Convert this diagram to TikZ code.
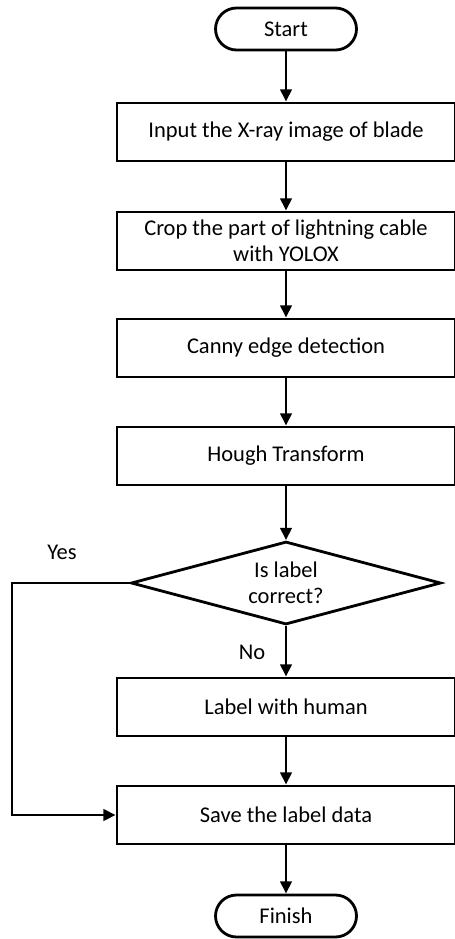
\documentclass[tikz,border=0pt]{standalone}
\usepackage{fontspec}
\setmainfont{Carlito}
\usetikzlibrary{arrows.meta,shapes.geometric}

\tikzset{
  flow/.style={line width=1.6pt,-{Triangle[length=7pt,width=6.5pt]}},
  terminal/.style={draw,line width=1.6pt,rounded corners=0.42cm,minimum width=2.82cm,minimum height=0.84cm,inner sep=0pt},
  process/.style={draw,line width=1.6pt,minimum width=6.76cm,minimum height=1.16cm,inner sep=0pt,align=center},
  decision/.style={draw,diamond,line width=1.6pt,aspect=3.7,minimum width=6.2cm,minimum height=1.66cm,inner sep=0pt,align=center}
}

\begin{document}
\begin{tikzpicture}[x=0.02cm,y=-0.02cm,font=\fontsize{12.8}{14.8}\selectfont]
\useasboundingbox (0,0) rectangle (455,939);
% nodes
\node[terminal] (start) at (286,29) {Start};
\node[process] (input) at (286,132) {Input the X-ray image of blade};
\node[process] (crop) at (286,241) {Crop the part of lightning cable\\with YOLOX};
\node[process] (canny) at (286,348) {Canny edge detection};
\node[process] (hough) at (286,456) {Hough Transform};
\node[decision] (check) at (286,583) {Is label\\correct?};
\node[process] (human) at (286,707) {Label with human};
\node[process] (save) at (286,815) {Save the label data};
\node[terminal] (finish) at (286,916) {Finish};
\coordinate (loop) at (12,0);
% labels
\node (yes) at (62,552) {Yes};
\node (no) at (252,652) {No};
% connectors
\draw[flow] (start) -- (input);
\draw[flow] (input) -- (crop);
\draw[flow] (crop) -- (canny);
\draw[flow] (canny) -- (hough);
\draw[flow] (hough) -- (check);
\draw[flow] (check) -- (human);
\draw[flow] (human) -- (save);
\draw[flow] (save) -- (finish);
\draw[flow] (check.west) -- (check.west -| loop) |- (save.west);
\end{tikzpicture}
\end{document}
